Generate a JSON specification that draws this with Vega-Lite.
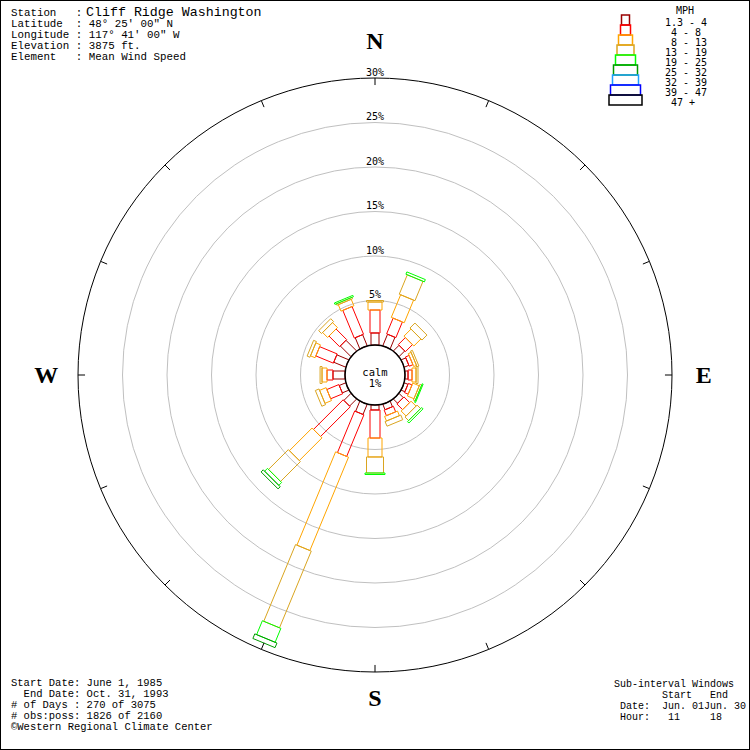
{
  "$schema": "https://vega.github.io/schema/vega-lite/v6.json",
  "width": 750,
  "height": 750,
  "padding": 0,
  "autosize": "none",
  "background": "white",
  "config": {"view": {"stroke": "#000", "strokeWidth": 2}},
  "datasets": {
    "wind": [
      {"dir": 0, "cls": 1, "pct": 1.35}, {"dir": 0, "cls": 2, "pct": 2.58}, {"dir": 0, "cls": 3, "pct": 0.90}, {"dir": 0, "cls": 4, "pct": 0.17},
      {"dir": 22.5, "cls": 1, "pct": 1.40}, {"dir": 22.5, "cls": 2, "pct": 1.91}, {"dir": 22.5, "cls": 3, "pct": 2.75}, {"dir": 22.5, "cls": 4, "pct": 2.36}, {"dir": 22.5, "cls": 5, "pct": 0.28},
      {"dir": 45, "cls": 1, "pct": 0.90}, {"dir": 45, "cls": 2, "pct": 1.12}, {"dir": 45, "cls": 3, "pct": 1.12}, {"dir": 45, "cls": 4, "pct": 0.79},
      {"dir": 67.5, "cls": 1, "pct": 0.56}, {"dir": 67.5, "cls": 2, "pct": 0.45}, {"dir": 67.5, "cls": 3, "pct": 0.34}, {"dir": 67.5, "cls": 4, "pct": 0.22},
      {"dir": 90, "cls": 1, "pct": 0.34}, {"dir": 90, "cls": 2, "pct": 0.45}, {"dir": 90, "cls": 3, "pct": 0.45}, {"dir": 90, "cls": 4, "pct": 0.22},
      {"dir": 112.5, "cls": 1, "pct": 0.45}, {"dir": 112.5, "cls": 2, "pct": 0.45}, {"dir": 112.5, "cls": 3, "pct": 0.79}, {"dir": 112.5, "cls": 4, "pct": 0.22}, {"dir": 112.5, "cls": 5, "pct": 0.11},
      {"dir": 135, "cls": 1, "pct": 0.67}, {"dir": 135, "cls": 2, "pct": 0.90}, {"dir": 135, "cls": 3, "pct": 0.79}, {"dir": 135, "cls": 4, "pct": 0.56}, {"dir": 135, "cls": 5, "pct": 0.22},
      {"dir": 157.5, "cls": 1, "pct": 0.67}, {"dir": 157.5, "cls": 2, "pct": 0.67}, {"dir": 157.5, "cls": 3, "pct": 0.56}, {"dir": 157.5, "cls": 4, "pct": 0.56},
      {"dir": 180, "cls": 1, "pct": 0.56}, {"dir": 180, "cls": 2, "pct": 3.15}, {"dir": 180, "cls": 3, "pct": 2.13}, {"dir": 180, "cls": 4, "pct": 1.80}, {"dir": 180, "cls": 5, "pct": 0.17},
      {"dir": 202.5, "cls": 1, "pct": 1.24}, {"dir": 202.5, "cls": 2, "pct": 5.06}, {"dir": 202.5, "cls": 3, "pct": 11.35}, {"dir": 202.5, "cls": 4, "pct": 9.33}, {"dir": 202.5, "cls": 5, "pct": 1.69}, {"dir": 202.5, "cls": 6, "pct": 0.56},
      {"dir": 225, "cls": 1, "pct": 1.12}, {"dir": 225, "cls": 2, "pct": 4.72}, {"dir": 225, "cls": 3, "pct": 3.60}, {"dir": 225, "cls": 4, "pct": 3.15}, {"dir": 225, "cls": 5, "pct": 0.45}, {"dir": 225, "cls": 6, "pct": 0.34},
      {"dir": 247.5, "cls": 1, "pct": 0.79}, {"dir": 247.5, "cls": 2, "pct": 1.46}, {"dir": 247.5, "cls": 3, "pct": 0.79}, {"dir": 247.5, "cls": 4, "pct": 0.45},
      {"dir": 270, "cls": 1, "pct": 1.35}, {"dir": 270, "cls": 2, "pct": 0.67}, {"dir": 270, "cls": 3, "pct": 0.56}, {"dir": 270, "cls": 4, "pct": 0.22},
      {"dir": 292.5, "cls": 1, "pct": 1.46}, {"dir": 292.5, "cls": 2, "pct": 2.13}, {"dir": 292.5, "cls": 3, "pct": 0.56}, {"dir": 292.5, "cls": 4, "pct": 0.34},
      {"dir": 315, "cls": 1, "pct": 1.69}, {"dir": 315, "cls": 2, "pct": 1.69}, {"dir": 315, "cls": 3, "pct": 0.79}, {"dir": 315, "cls": 4, "pct": 0.45},
      {"dir": 337.5, "cls": 1, "pct": 1.35}, {"dir": 337.5, "cls": 2, "pct": 3.37}, {"dir": 337.5, "cls": 3, "pct": 0.79}, {"dir": 337.5, "cls": 4, "pct": 0.17}, {"dir": 337.5, "cls": 5, "pct": 0.17}
    ],
    "classes": [
      {"cls": 1, "label": "1.3 - 4"}, {"cls": 2, "label": "\u200b\u00a04 - 8"}, {"cls": 3, "label": "\u200b\u00a08 - 13"},
      {"cls": 4, "label": "13 - 19"}, {"cls": 5, "label": "19 - 25"}, {"cls": 6, "label": "25 - 32"},
      {"cls": 7, "label": "32 - 39"}, {"cls": 8, "label": "39 - 47"}, {"cls": 9, "label": "\u200b\u00a047 +"}
    ],
    "rings": [{"p": 5, "label": "5%"}, {"p": 10, "label": "10%"}, {"p": 15, "label": "15%"}, {"p": 20, "label": "20%"}, {"p": 25, "label": "25%"}, {"p": 30, "label": "30%"}],
    "ticks": [{"d": 0}, {"d": 22.5}, {"d": 45}, {"d": 67.5}, {"d": 90}, {"d": 112.5}, {"d": 135}, {"d": 157.5}, {"d": 180}, {"d": 202.5}, {"d": 225}, {"d": 247.5}, {"d": 270}, {"d": 292.5}, {"d": 315}, {"d": 337.5}],
    "cardinals": [{"d": 0, "l": "N"}, {"d": 90, "l": "E"}, {"d": 180, "l": "S"}, {"d": 270, "l": "W"}]
  },
  "layer": [
    {
      "data": {"name": "rings"},
      "transform": [{"filter": "datum.p < 30"}, {"calculate": "3.3708 + datum.p", "as": "rad"}],
      "mark": {"type": "arc", "theta": 0, "theta2": 6.2832, "filled": false, "stroke": "#c0c0c0", "strokeWidth": 1},
      "encoding": {"radius": {"field": "rad", "type": "quantitative", "stack": null, "scale": {"type": "linear", "domain": [0, 42.1348], "range": [0, 375], "zero": true, "nice": false}}}
    },
    {
      "data": {"name": "rings"},
      "transform": [{"filter": "datum.p == 30"}, {"calculate": "3.3708 + datum.p", "as": "rad"}],
      "mark": {"type": "arc", "theta": 0, "theta2": 6.2832, "filled": false, "stroke": "#000", "strokeWidth": 1},
      "encoding": {"radius": {"field": "rad", "type": "quantitative", "stack": null, "scale": {"type": "linear", "domain": [0, 42.1348], "range": [0, 375], "zero": true, "nice": false}}}
    },
    {
      "data": {"name": "wind"},
      "transform": [
        {"window": [{"op": "sum", "field": "pct", "as": "cum"}], "groupby": ["dir"], "sort": [{"field": "cls"}], "frame": [null, 0]},
        {"calculate": "3.3708 + datum.cum", "as": "r1"},
        {"calculate": "datum.r1 - datum.pct", "as": "r0"},
        {"calculate": "[4,5,7,8.5,10,12,13,15,16.5][datum.cls-1]/8.9", "as": "hw"},
        {"calculate": "datum.dir*PI/180", "as": "t"},
        {"calculate": "[0,1,2,3,4]", "as": "ks"},
        {"flatten": ["ks"], "as": ["k"]},
        {"calculate": "(datum.k==1||datum.k==2) ? datum.r1 : datum.r0", "as": "rr"},
        {"calculate": "(datum.k==2||datum.k==3) ? datum.hw : -datum.hw", "as": "ss"},
        {"calculate": "datum.rr*sin(datum.t) + datum.ss*cos(datum.t)", "as": "px"},
        {"calculate": "datum.rr*cos(datum.t) - datum.ss*sin(datum.t)", "as": "py"},
        {"calculate": "datum.dir + '_' + datum.cls", "as": "seg"}
      ],
      "mark": {"type": "line", "strokeWidth": 1, "interpolate": "linear"},
      "encoding": {
        "x": {"field": "px", "type": "quantitative", "scale": {"domain": [-42.1348, 42.1348], "nice": false, "zero": false}, "axis": null},
        "y": {"field": "py", "type": "quantitative", "scale": {"domain": [-42.1348, 42.1348], "nice": false, "zero": false}, "axis": null},
        "detail": {"field": "seg", "type": "nominal"},
        "order": {"field": "k", "type": "quantitative"},
        "color": {"field": "cls", "type": "ordinal", "scale": {"domain": [1, 2, 3, 4, 5, 6, 7, 8, 9], "range": ["#990000", "#ff0000", "#ffa500", "#daa520", "#00ff00", "#009900", "#1ea0ff", "#0000ff", "#000000"]}, "legend": null}
      }
    },
    {
      "data": {"values": [{"p": 0}]},
      "transform": [{"calculate": "3.3708 + datum.p", "as": "rad"}],
      "mark": {"type": "arc", "theta": 0, "theta2": 6.2832, "filled": false, "stroke": "#000", "strokeWidth": 1.5},
      "encoding": {"radius": {"field": "rad", "type": "quantitative", "stack": null, "scale": {"type": "linear", "domain": [0, 42.1348], "range": [0, 375], "zero": true, "nice": false}}}
    },
    {
      "data": {"name": "ticks"},
      "transform": [
        {"calculate": "datum.d*PI/180", "as": "t"},
        {"calculate": "33.3708*sin(datum.t)", "as": "x1"},
        {"calculate": "33.3708*cos(datum.t)", "as": "y1"},
        {"calculate": "32.58*sin(datum.t)", "as": "x2"},
        {"calculate": "32.58*cos(datum.t)", "as": "y2"}
      ],
      "mark": {"type": "rule", "color": "#000", "strokeWidth": 1},
      "encoding": {
        "x": {"field": "x1", "type": "quantitative", "scale": {"domain": [-42.1348, 42.1348], "nice": false, "zero": false}, "axis": null},
        "y": {"field": "y1", "type": "quantitative", "scale": {"domain": [-42.1348, 42.1348], "nice": false, "zero": false}, "axis": null},
        "x2": {"field": "x2"},
        "y2": {"field": "y2"}
      }
    },
    {
      "data": {"name": "rings"},
      "transform": [{"calculate": "3.3708 + datum.p + 0.25", "as": "ly"}],
      "mark": {"type": "text", "font": "DejaVu Sans Mono", "fontSize": 10, "align": "center", "baseline": "alphabetic", "color": "#000"},
      "encoding": {
        "x": {"datum": 0, "type": "quantitative", "scale": {"domain": [-42.1348, 42.1348], "nice": false, "zero": false}, "axis": null},
        "y": {"field": "ly", "type": "quantitative", "scale": {"domain": [-42.1348, 42.1348], "nice": false, "zero": false}, "axis": null},
        "text": {"field": "label"}
      }
    },
    {
      "data": {"values": [{}]},
      "mark": {"type": "text", "text": ["calm", "1%"], "lineHeight": 11, "font": "DejaVu Sans Mono", "fontSize": 10.5, "align": "center", "baseline": "middle", "color": "#000"},
      "encoding": {
        "x": {"datum": 0, "type": "quantitative", "scale": {"domain": [-42.1348, 42.1348], "nice": false, "zero": false}, "axis": null},
        "y": {"datum": 0.22, "type": "quantitative", "scale": {"domain": [-42.1348, 42.1348], "nice": false, "zero": false}, "axis": null}
      }
    },
    {
      "data": {"name": "cardinals"},
      "transform": [
        {"calculate": "datum.d*PI/180", "as": "t"},
        {"calculate": "36.95*sin(datum.t)", "as": "cx"},
        {"calculate": "36.9*cos(datum.t) + 0.6*abs(cos(datum.t)) - 0.1", "as": "cy"}
      ],
      "mark": {"type": "text", "font": "Liberation Serif", "fontWeight": "bold", "fontSize": 24, "align": "center", "baseline": "middle", "color": "#000"},
      "encoding": {
        "x": {"field": "cx", "type": "quantitative", "scale": {"domain": [-42.1348, 42.1348], "nice": false, "zero": false}, "axis": null},
        "y": {"field": "cy", "type": "quantitative", "scale": {"domain": [-42.1348, 42.1348], "nice": false, "zero": false}, "axis": null},
        "text": {"field": "l"}
      }
    },
    {
      "data": {"name": "classes"},
      "transform": [
        {"calculate": "[4,5,7,8.5,10,12,13,15,16.5][datum.cls-1]", "as": "hwp"},
        {"calculate": "15 + 10*(datum.cls-1)", "as": "top"},
        {"calculate": "(625.5 - datum.hwp - 375)/8.9", "as": "lx0"},
        {"calculate": "(625.5 + datum.hwp - 375)/8.9", "as": "lx1"},
        {"calculate": "(375 - datum.top)/8.9", "as": "ly0"},
        {"calculate": "(375 - datum.top - 10)/8.9", "as": "ly1"}
      ],
      "mark": {"type": "rect", "filled": false, "strokeWidth": 1.5},
      "encoding": {
        "x": {"field": "lx0", "type": "quantitative", "scale": {"domain": [-42.1348, 42.1348], "nice": false, "zero": false}, "axis": null},
        "x2": {"field": "lx1"},
        "y": {"field": "ly0", "type": "quantitative", "scale": {"domain": [-42.1348, 42.1348], "nice": false, "zero": false}, "axis": null},
        "y2": {"field": "ly1"},
        "color": {"field": "cls", "type": "ordinal", "scale": {"domain": [1, 2, 3, 4, 5, 6, 7, 8, 9], "range": ["#990000", "#ff0000", "#ffa500", "#daa520", "#00ff00", "#009900", "#1ea0ff", "#0000ff", "#000000"]}, "legend": null}
      }
    },
    {
      "data": {"name": "classes"},
      "transform": [{"calculate": "(375 - (15 + 10*(datum.cls-1)) - 11)/8.9", "as": "ty"}],
      "mark": {"type": "text", "font": "DejaVu Sans Mono", "fontSize": 10, "align": "left", "baseline": "alphabetic", "color": "#000"},
      "encoding": {
        "x": {"datum": 32.584, "type": "quantitative", "scale": {"domain": [-42.1348, 42.1348], "nice": false, "zero": false}, "axis": null},
        "y": {"field": "ty", "type": "quantitative", "scale": {"domain": [-42.1348, 42.1348], "nice": false, "zero": false}, "axis": null},
        "text": {"field": "label"}
      }
    },
    {
      "data": {"values": [{}]},
      "mark": {"type": "text", "text": "MPH", "font": "DejaVu Sans Mono", "fontSize": 10, "align": "left", "baseline": "alphabetic", "color": "#000"},
      "encoding": {
        "x": {"datum": 33.82, "type": "quantitative", "scale": {"domain": [-42.1348, 42.1348], "nice": false, "zero": false}, "axis": null},
        "y": {"datum": 40.6, "type": "quantitative", "scale": {"domain": [-42.1348, 42.1348], "nice": false, "zero": false}, "axis": null}
      }
    },
    {
      "data": {"values": [{}]},
      "mark": {"type": "text", "text": ["Station\u00a0\u00a0\u00a0:", "Latitude\u00a0\u00a0: 48° 25' 00\" N", "Longitude\u00a0: 117° 41' 00\" W", "Elevation\u00a0: 3875 ft.", "Element\u00a0\u00a0\u00a0: Mean Wind Speed"], "lineHeight": 11, "font": "Liberation Mono", "fontSize": 10.8, "align": "left", "baseline": "alphabetic", "color": "#000"},
      "encoding": {
        "x": {"datum": -40.899, "type": "quantitative", "scale": {"domain": [-42.1348, 42.1348], "nice": false, "zero": false}, "axis": null},
        "y": {"datum": 40.337, "type": "quantitative", "scale": {"domain": [-42.1348, 42.1348], "nice": false, "zero": false}, "axis": null}
      }
    },
    {
      "data": {"values": [{}]},
      "mark": {"type": "text", "text": "Cliff Ridge Washington", "font": "Liberation Mono", "fontSize": 13.3, "align": "left", "baseline": "alphabetic", "color": "#000"},
      "encoding": {
        "x": {"datum": -32.472, "type": "quantitative", "scale": {"domain": [-42.1348, 42.1348], "nice": false, "zero": false}, "axis": null},
        "y": {"datum": 40.337, "type": "quantitative", "scale": {"domain": [-42.1348, 42.1348], "nice": false, "zero": false}, "axis": null}
      }
    },
    {
      "data": {"values": [{}]},
      "mark": {"type": "text", "text": ["Start Date: June 1, 1985", "\u200b\u00a0\u00a0End Date: Oct. 31, 1993", "# of Days : 270 of 3075", "# obs:poss: 1826 of 2160", "©Western Regional Climate Center"], "lineHeight": 11, "font": "Liberation Mono", "fontSize": 10.5, "align": "left", "baseline": "alphabetic", "color": "#000"},
      "encoding": {
        "x": {"datum": -40.899, "type": "quantitative", "scale": {"domain": [-42.1348, 42.1348], "nice": false, "zero": false}, "axis": null},
        "y": {"datum": -34.944, "type": "quantitative", "scale": {"domain": [-42.1348, 42.1348], "nice": false, "zero": false}, "axis": null}
      }
    },
    {
      "data": {"values": [{}]},
      "mark": {"type": "text", "text": ["Sub-interval Windows", "\u200b\u00a0\u00a0\u00a0\u00a0\u00a0\u00a0\u00a0\u00a0Start\u00a0\u00a0\u00a0End", "\u200b\u00a0Date:\u00a0\u00a0Jun. 01Jun. 30", "\u200b\u00a0Hour:\u00a0\u00a0\u00a011\u00a0\u00a0\u00a0\u00a0\u00a018"], "lineHeight": 11, "font": "Liberation Mono", "fontSize": 10, "align": "left", "baseline": "alphabetic", "color": "#000"},
      "encoding": {
        "x": {"datum": 26.854, "type": "quantitative", "scale": {"domain": [-42.1348, 42.1348], "nice": false, "zero": false}, "axis": null},
        "y": {"datum": -35.056, "type": "quantitative", "scale": {"domain": [-42.1348, 42.1348], "nice": false, "zero": false}, "axis": null}
      }
    }
  ]
}
